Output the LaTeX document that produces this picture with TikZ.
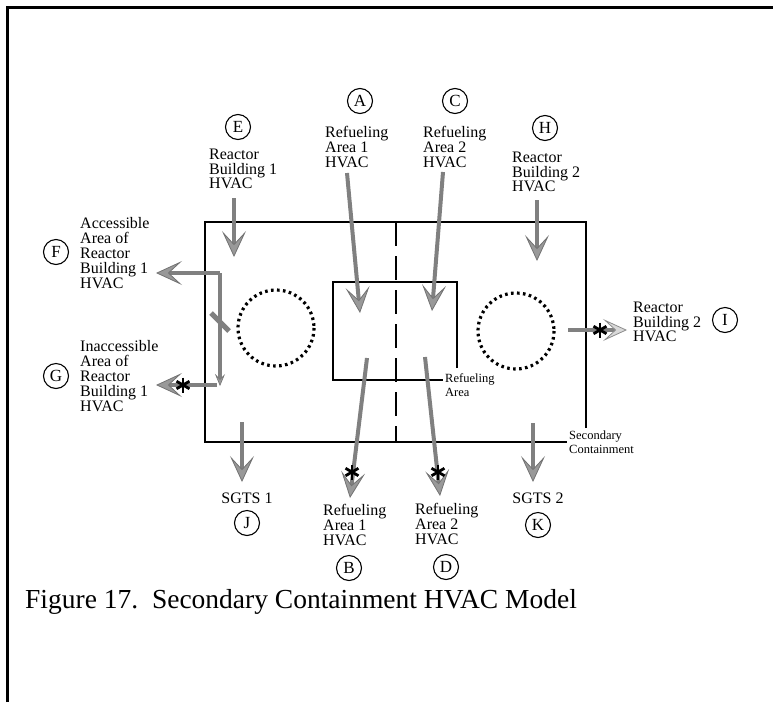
\documentclass[tikz,border=0pt]{standalone}
\usepackage{fontspec}
\setmainfont{Liberation Serif}
\usetikzlibrary{arrows.meta}
\begin{document}
\begin{tikzpicture}[x=1pt,y=-1pt,
  lbl/.style={align=left, anchor=west, inner sep=0pt, font=\fontsize{16}{14.8}\selectfont},
  ctr/.style={inner sep=0pt, font=\fontsize{16}{14.8}\selectfont},
  smalllbl/.style={align=left, anchor=west, inner sep=0pt, font=\fontsize{12.5}{13.5}\selectfont},
  letter/.style={circle, draw, line width=1.1pt, minimum size=25pt, inner sep=0pt, font=\fontsize{17}{17}\selectfont},
  flow/.style={draw=black!50, line width=4pt, -{Stealth[length=26pt,width=24pt,inset=13pt,fill=black!40,color=black!55,line width=0.8pt]}},
  flowlight/.style={draw=black!50, line width=4pt, -{Stealth[length=24pt,width=22pt,inset=12pt,fill=black!15,color=black!45,line width=0.8pt]}},
  flowsmall/.style={draw=black!50, line width=3.5pt, -{Stealth[length=12pt,width=10pt,inset=5pt,fill=black!40,color=black!55,line width=0.6pt]}},
  wall/.style={line width=2pt},
  dotc/.style={line width=3.2pt, dash pattern=on 2.6pt off 3.4pt},
  astk/.style={circle, minimum size=16pt, inner sep=0pt, path picture={
     \foreach \a in {90,30,150}{\draw[line width=2.8pt] (path picture bounding box.center) ++(\a:7.5pt) -- ++(\a+180:15pt);}}}
]
\useasboundingbox (0,0) rectangle (773,702);
% outer frame
\draw[line width=3pt] (7,702) -- (7,7) -- (773,7);

% secondary containment
\draw[wall] (586,428) -- (586,222) -- (205,222) -- (205,442) -- (567,442);
\node[smalllbl] (sclab) at (569,442) {Secondary\\Containment};
% refueling area
\draw[wall] (457,368) -- (457,282) -- (333,282) -- (333,380) -- (443,380);
\node[smalllbl] (ralab) at (445,385) {Refueling\\Area};
% dividing dashed line
\draw[line width=2pt, dash pattern=on 24pt off 10pt] (396,222) -- (396,442);
% reactor circles
\draw[dotc] (276,328) circle (38);
\draw[dotc] (516,331) circle (38);

% labels
\node[letter] (A) at (360,101) {A};
\node[lbl] (Alab) at (325,147) {Refueling\\Area 1\\HVAC};
\node[letter] (C) at (455,101) {C};
\node[lbl] (Clab) at (423,147) {Refueling\\Area 2\\HVAC};
\node[letter] (E) at (238,127) {E};
\node[lbl] (Elab) at (209,169) {Reactor\\Building 1\\HVAC};
\node[letter] (H) at (545,128) {H};
\node[lbl] (Hlab) at (512,172) {Reactor\\Building 2\\HVAC};
\node[letter] (F) at (56,252) {F};
\node[lbl] (Flab) at (80,253) {Accessible\\Area of\\Reactor\\Building 1\\HVAC};
\node[letter] (G) at (56,376) {G};
\node[lbl] (Glab) at (80,376) {Inaccessible\\Area of\\Reactor\\Building 1\\HVAC};
\node[letter] (I) at (725,320) {I};
\node[lbl] (Ilab) at (633,322) {Reactor\\Building 2\\HVAC};
\node[ctr] (Jlab) at (247,498) {SGTS 1};
\node[letter] (J) at (247,523) {J};
\node[ctr] (Klab) at (538,498) {SGTS 2};
\node[letter] (K) at (538,525) {K};
\node[lbl] (Blab) at (323,525) {Refueling\\Area 1\\HVAC};
\node[letter] (B) at (349,568) {B};
\node[lbl] (Dlab) at (415,524) {Refueling\\Area 2\\HVAC};
\node[letter] (D) at (446,567) {D};

% arrow end points
\coordinate (e0) at (234,198); \coordinate (e1) at (234,257);
\coordinate (a0) at (347,173); \coordinate (a1) at (360,313);
\coordinate (c0) at (443,172); \coordinate (c1) at (432,311);
\coordinate (h0) at (537,200); \coordinate (h1) at (537,261);
\coordinate (fj) at (220,273); \coordinate (f1) at (156,273);
\coordinate (gj) at (220,386); \coordinate (g0) at (217,385); \coordinate (g1) at (156,385);
\coordinate (j0) at (242,422); \coordinate (j1) at (242,482);
\coordinate (k0) at (533,423); \coordinate (k1) at (533,482);
\coordinate (b0) at (367,358); \coordinate (b1) at (350,498);
\coordinate (d0) at (425,357); \coordinate (d1) at (440,496);
\coordinate (i0) at (568,330); \coordinate (i1) at (627,330);
\coordinate (dm0) at (211,313); \coordinate (dm1) at (229,331);

\draw[flow] (e0) -- (e1);
\draw[flow] (a0) -- (a1);
\draw[flow] (c0) -- (c1);
\draw[flow] (h0) -- (h1);
\draw[flow] (fj) -- (f1);
\draw[flowsmall] (fj) -- (gj);
\draw[flow] (g0) -- (g1);
\draw[draw=black!50, line width=5pt] (dm0) -- (dm1);
\draw[flow] (j0) -- (j1);
\draw[flow] (k0) -- (k1);
\draw[flow] (b0) -- (b1);
\draw[flow] (d0) -- (d1);
\draw[flowlight] (i0) -- (i1);

% asterisks
\node[astk] (sg) at (183,385) {};
\node[astk] (sb) at (352,472) {};
\node[astk] (sd) at (438,472) {};
\node[astk] (si) at (600,330) {};

% caption
\node[anchor=base west, inner sep=0pt, font=\fontsize{27.5}{30}\selectfont] (cap) at (25,608) {Figure 17.\ \ Secondary Containment HVAC Model};
\end{tikzpicture}
\end{document}
